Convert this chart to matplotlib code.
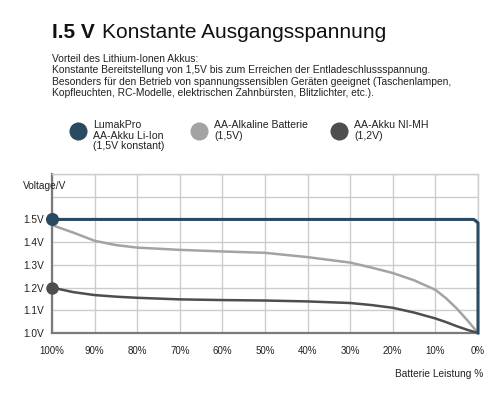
import matplotlib.pyplot as plt
from matplotlib.lines import Line2D

# battery capacity (%) and voltage readings
pct = [100, 95, 90, 85, 80, 70, 60, 50, 40, 30, 25, 20, 15, 10, 7.5, 5, 2.5, 0]
alkaline_v = [1.475, 1.442, 1.406, 1.387, 1.376, 1.366, 1.359, 1.353, 1.334, 1.31,
              1.288, 1.264, 1.232, 1.19, 1.153, 1.108, 1.056, 1.0]
nimh_v = [1.20, 1.18, 1.167, 1.16, 1.155, 1.148, 1.145, 1.143, 1.139, 1.132,
          1.123, 1.111, 1.09, 1.064, 1.048, 1.03, 1.014, 1.0]
liion_pct = [100, 1, 0, 0]
liion_v = [1.5, 1.5, 1.485, 1.0]

x_ticks = [100, 90, 80, 70, 60, 50, 40, 30, 20, 10, 0]
x_labels = ["100%", "90%", "80%", "70%", "60%", "50%", "40%", "30%", "20%", "10%", "0%"]
y_ticks = [1.0, 1.1, 1.2, 1.3, 1.4, 1.5, 1.6, 1.7]
y_labels = ["1.0V", "1.1V", "1.2V", "1.3V", "1.4V", "1.5V", "", ""]

legend_names = ["LumakPro\nAA-Akku Li-Ion\n(1,5V konstant)",
                "AA-Alkaline Batterie\n(1,5V)",
                "AA-Akku NI-MH\n(1,2V)"]

BLUE = "#2a4a62"
LIGHT = "#a3a3a3"
DARK = "#4e4e4e"
TXT = "#222222"

plt.rcParams["font.family"] = ["Liberation Sans", "DejaVu Sans"]

fig = plt.figure(figsize=(5, 4), dpi=100)
ax = fig.add_axes([0.104, 0.1675, 0.852, 0.3975])

ax.plot(pct, alkaline_v, color=LIGHT, lw=1.8, solid_capstyle="round",
        solid_joinstyle="round", zorder=3)
ax.plot(pct, nimh_v, color=DARK, lw=1.8, solid_capstyle="round",
        solid_joinstyle="round", zorder=3)
ax.plot(liion_pct, liion_v, color=BLUE, lw=2.2, solid_joinstyle="round",
        clip_on=False, zorder=4)
ax.plot([pct[0]], [nimh_v[0]], "o", color=DARK, ms=8, clip_on=False, zorder=5)
ax.plot([liion_pct[0]], [liion_v[0]], "o", color=BLUE, ms=8.4, clip_on=False, zorder=5)

ax.set_xlim(100, 0)
ax.set_ylim(1.0, 1.7)
ax.set_xticks(x_ticks)
ax.set_xticklabels(x_labels, fontsize=7, color=TXT)
ax.set_yticks(y_ticks)
ax.set_yticklabels(y_labels, fontsize=7.3, color=TXT, ha="left")
ax.tick_params(axis="x", length=0, pad=9)
ax.tick_params(axis="y", length=0, pad=21)
ax.grid(True, color="#cccccc", lw=1)
ax.set_axisbelow(True)
for side in ["top", "right"]:
    ax.spines[side].set_color("#cccccc")
    ax.spines[side].set_linewidth(1)
for side in ["left", "bottom"]:
    ax.spines[side].set_color("#7a7a7a")
    ax.spines[side].set_linewidth(1.6)

fig.text(0.046, 0.535, "Voltage/V", fontsize=7.3, color=TXT, va="center")
fig.text(0.966, 0.065, "Batterie Leistung %", fontsize=7.3, color=TXT,
         ha="right", va="center")

# title and description
fig.text(0.104, 0.92, "I.5 V", fontsize=15, fontweight="bold", color="#111111", va="center")
fig.text(0.204, 0.92, "Konstante Ausgangsspannung", fontsize=15, color="#111111", va="center")
desc = ("Vorteil des Lithium-Ionen Akkus:\n"
        "Konstante Bereitstellung von 1,5V bis zum Erreichen der Entladeschlussspannung.\n"
        "Besonders für den Betrieb von spannungssensiblen Geräten geeignet (Taschenlampen,\n"
        "Kopfleuchten, RC-Modelle, elektrischen Zahnbürsten, Blitzlichter, etc.).")
fig.text(0.104, 0.866, desc, fontsize=7.4, color=TXT, va="top", linespacing=1.2)

# legend
leg_x = [0.155, 0.397, 0.677]
for lx, name, col in zip(leg_x, legend_names, [BLUE, LIGHT, DARK]):
    fig.add_artist(Line2D([lx], [0.672], marker="o", ms=12, color=col,
                          transform=fig.transFigure))
    fig.text(lx + 0.031, 0.7, name, fontsize=7.6, color=TXT, va="top",
             linespacing=1.08)

fig.savefig("out.png", dpi=100)
